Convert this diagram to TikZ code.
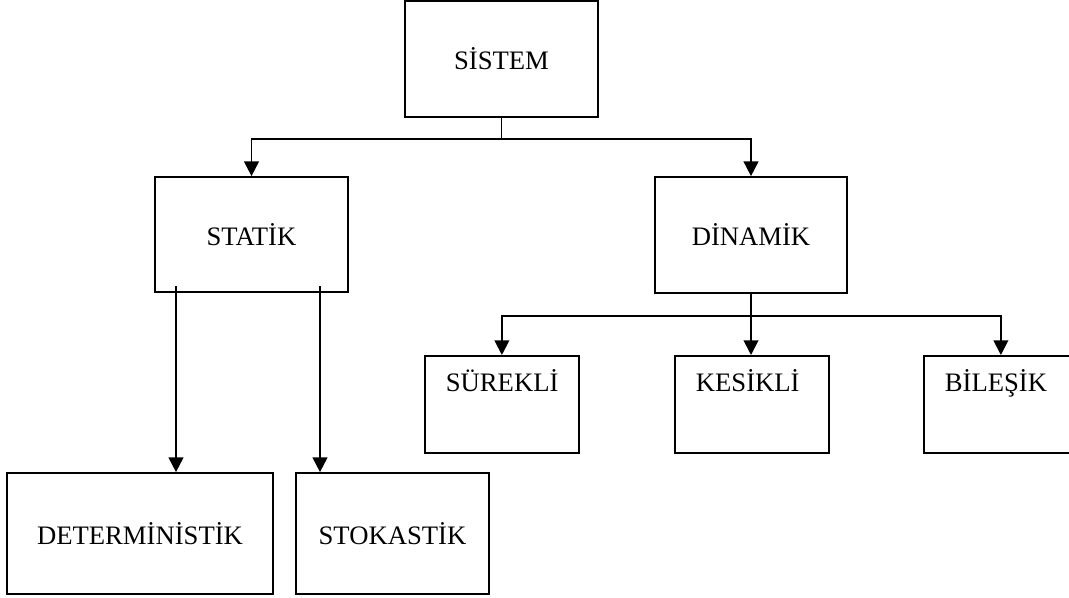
\documentclass[tikz,border=0pt]{standalone}
\usepackage{fontspec}
\setmainfont{Liberation Serif}
\usetikzlibrary{arrows.meta}
\begin{document}
\begin{tikzpicture}[x=0.75pt,y=-0.75pt,
  box/.style={draw, line width=1.3pt, inner sep=0pt, font=\fontsize{20pt}{24pt}\selectfont},
  bigbox/.style={box, minimum width={#1*0.75pt}},
  smallbox/.style={box, text width={(154-42)*0.75pt}, inner xsep={21*0.75pt}, align=left,
     text height=27pt, text depth=45.75pt},
  conn/.style={line width=1.4pt},
  arr/.style={conn, -{Triangle[width=11pt,length=11pt]}}]
\useasboundingbox[fill=white] (0,0) rectangle (1069,597);
% boxes
\node[bigbox=193, minimum height={116*0.75pt}] (sys) at (501.5,59) {SİSTEM};
\node[bigbox=193, minimum height={115*0.75pt}] (stat) at (251.5,234.5) {STATİK};
\node[bigbox=192, minimum height={116*0.75pt}] (dyn) at (751,235) {DİNAMİK};
\node[bigbox=266, minimum height={121*0.75pt}] (det) at (140,533.5) {DETERMİNİSTİK};
\node[bigbox=193, minimum height={121*0.75pt}] (sto) at (392.5,533.5) {STOKASTİK};
\node[smallbox, anchor=north west] (sur) at (424,355) {SÜREKLİ};
\node[smallbox, anchor=north west] (kes) at (674,355) {KESİKLİ};
\node[smallbox, anchor=north west] (bil) at (923,355) {BİLEŞİK};
% connectors from SİSTEM
\coordinate (j1) at (sys.south |- 0,139);
\draw[conn] (sys.south) -- (j1);
\draw[arr] (j1) -| (stat.north);
\draw[arr] (j1) -| (dyn.north);
% connectors from DİNAMİK
\coordinate (j2) at (dyn.south |- 0,316);
\draw[conn] (dyn.south) -- (j2);
\draw[arr] (j2) -| (sur.north);
\draw[arr] (j2) -- (j2 |- kes.north);
\draw[arr] (j2) -| (bil.north);
% connectors from STATİK
\coordinate (s1) at (176,286);
\coordinate (s2) at (320,286);
\draw[arr] (s1) -- (s1 |- det.north);
\draw[arr] (s2) -- (s2 |- sto.north);
\end{tikzpicture}
\end{document}
